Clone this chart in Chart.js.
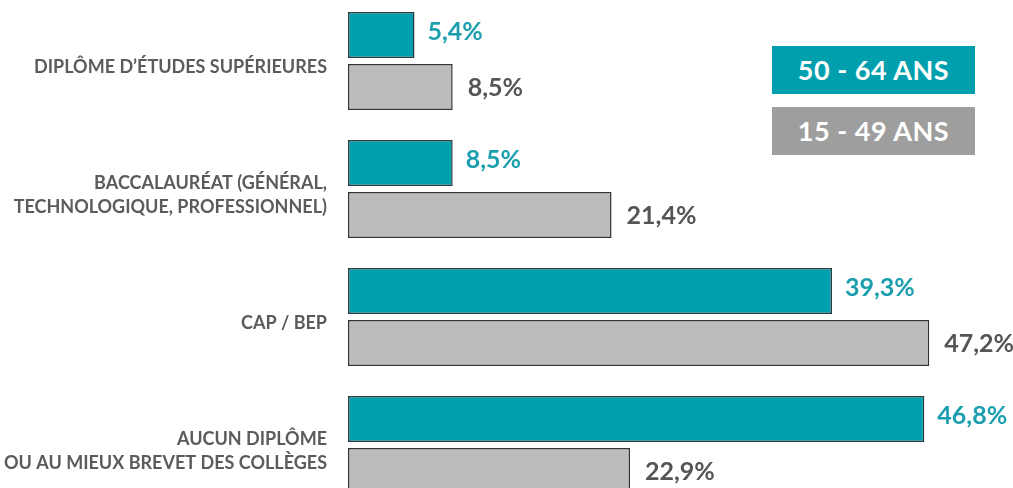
<!DOCTYPE html>
<html>
<head>
<meta charset="utf-8">
<script src="https://cdn.jsdelivr.net/npm/chart.js@4/dist/chart.umd.min.js"></script>
<style>
    html, body { margin: 0; padding: 0; background: #fff; overflow: hidden; }
    body { width: 1013px; height: 488px; position: relative; }
    #wrap { position: absolute; left: 0; top: -3px; width: 1013px; height: 512px; }
    .leg { position: absolute; left: 772px; width: 203px; height: 48px; color: #fff;
           font: bold 27px Lato, sans-serif; text-align: center; line-height: 48px; letter-spacing: 0.5px; }
    #leg1 { top: 46px; background: #009fae; }
    #leg2 { top: 107px; background: #9e9e9e; }
</style>
</head>
<body>
<div id="wrap"><canvas id="eduChart"></canvas></div>
<div class="leg" id="leg1">50 - 64 ANS</div>
<div class="leg" id="leg2">15 - 49 ANS</div>
<script>
// categories (each one split into lines)
var categories = [
    ['DIPLÔME D\u2019ÉTUDES SUPÉRIEURES'],
    ['BACCALAURÉAT (GÉNÉRAL,', 'TECHNOLOGIQUE, PROFESSIONNEL)'],
    ['CAP / BEP'],
    ['AUCUN DIPLÔME', 'OU AU MIEUX BREVET DES COLLÈGES']
];
var seniors = [5.4, 8.5, 39.3, 46.8];   // 50 - 64 ans
var juniors = [8.5, 21.4, 47.2, 22.9];  // 15 - 49 ans

document.addEventListener('DOMContentLoaded', function() {
    var ctx = document.getElementById('eduChart').getContext('2d');

    // value labels right of each bar
    var valueLabels = {
        id: 'valueLabels',
        afterDatasetsDraw: function(chart) {
            var c = chart.ctx;
            c.save();
            c.font = 'bold 25px Lato, sans-serif';
            c.textBaseline = 'middle';
            c.textAlign = 'left';
            chart.data.datasets.forEach(function(ds, i) {
                var meta = chart.getDatasetMeta(i);
                c.fillStyle = i === 0 ? '#1b9fae' : '#555555';
                meta.data.forEach(function(bar, j) {
                    var txt = ds.data[j].toFixed(1).replace('.', ',') + '%';
                    c.fillText(txt, bar.x + (i === 0 ? 13 : 15), bar.y + (i === 0 ? -3 : 1));
                });
            });
            c.restore();
        }
    };

    new Chart(ctx, {
        type: 'bar',
        data: {
            labels: categories,
            datasets: [{
                label: '50 - 64 ans',
                data: seniors,
                backgroundColor: '#009fae',
                borderColor: '#263a40',
                borderWidth: 1.5,
                borderSkipped: false
            }, {
                label: '15 - 49 ans',
                data: juniors,
                backgroundColor: '#bcbdba',
                borderColor: '#2f3436',
                borderWidth: 1.5,
                borderSkipped: false
            }]
        },
        options: {
            indexAxis: 'y',
            responsive: true,
            maintainAspectRatio: false,
            animation: false,
            categoryPercentage: 0.8125,
            barPercentage: 0.885,
            layout: { padding: 0 },
            plugins: {
                legend: { display: false },
                tooltip: { enabled: false }
            },
            scales: {
                x: {
                    display: false,
                    min: 0,
                    max: 54
                },
                y: {
                    grid: { display: false, drawTicks: false },
                    border: { display: false },
                    afterFit: function(scale) {
                        scale.width = 348;
                        scale.paddingTop = 0;
                        scale.paddingBottom = 0;
                    },
                    ticks: {
                        padding: 21,
                        labelOffset: 6,
                        color: '#5b5b5b',
                        font: { family: 'Lato, sans-serif', size: 18, weight: 'bold', lineHeight: 1.33 }
                    }
                }
            }
        },
        plugins: [valueLabels]
    });
});
</script>
</body>
</html>
